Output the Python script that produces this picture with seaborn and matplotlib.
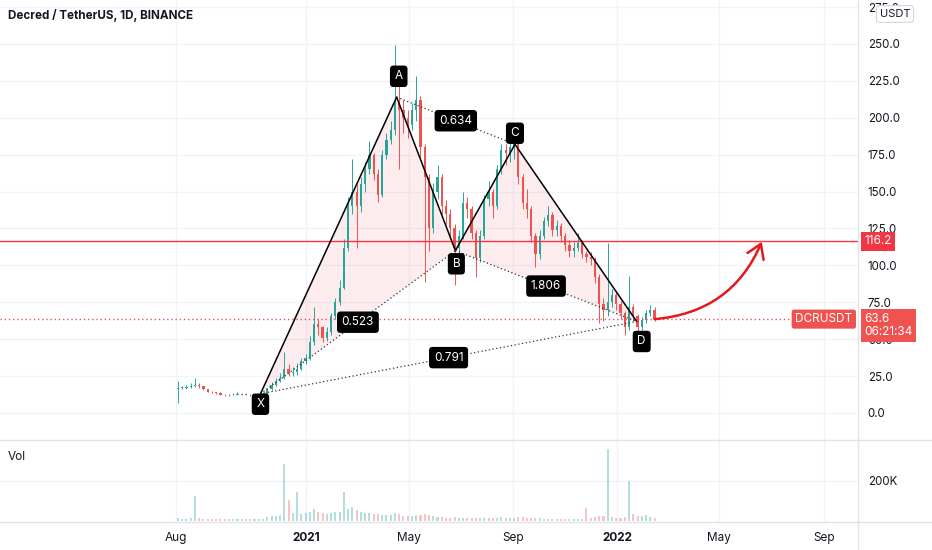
import numpy as np
import pandas as pd
import matplotlib
matplotlib.use("Agg")
import matplotlib.pyplot as plt
import matplotlib.transforms as mtransforms
from matplotlib.patches import FancyArrowPatch
from matplotlib.lines import Line2D
from matplotlib.ticker import FuncFormatter, FormatStrFormatter
import seaborn as sns

# ---- data (5-day candles, days counted from 2020-08-01) ----
start_date = pd.Timestamp("2020-08-01")
candle_days = 5
first_open = 16

closes = [17, 17, 17.5, 18, 19, 18, 16, 14.5, 14, 13.5,
          12.5, 12, 12, 12.5, 13, 12.5, 12.5, 12, 12, 12.5,
          13, 16, 19, 22, 24, 30, 27, 28, 30, 35,
          37, 48, 60, 58, 51, 55, 66, 75, 85, 112,
          140, 150, 140, 155, 165, 175, 162, 148, 175, 185,
          192, 210, 205, 200, 195, 205, 212, 180, 160, 125,
          150, 160, 140, 135, 125, 112, 120, 142, 138, 122,
          105, 120, 145, 150, 140, 165, 178, 176, 180, 183,
          160, 142, 138, 120, 108, 120, 130, 134, 124, 127,
          120, 114, 110, 112, 115, 108, 106, 104, 92, 74,
          70, 75, 80, 74, 68, 58, 72, 66, 58, 63,
          68, 70, 63.6]
highs = [22, 18.5, 19, 20, 24, 20, 18.5, 16.5, 15, 14.5,
         14, 13, 12.8, 13.5, 14, 13.5, 13.5, 13, 12.8, 13.2,
         14, 17, 21, 24, 27, 41, 33, 31, 34, 37,
         40, 52, 72, 64, 59, 58, 68, 78, 90, 118,
         146, 172, 155, 160, 170, 184, 176, 165, 178, 190,
         198, 249, 222, 212, 205, 210, 228, 215, 182, 162,
         156, 168, 162, 144, 138, 128, 124, 150, 146, 140,
         124, 124, 148, 157, 152, 168, 182, 182, 184, 187,
         184, 162, 152, 140, 122, 124, 133, 140, 136, 131,
         129, 122, 117, 116, 122, 117, 110, 109, 106, 94,
         78, 115, 84, 82, 76, 69, 93, 74, 67, 65,
         70, 73, 72]
lows = [7, 16, 16.5, 17, 17.5, 17, 15.5, 14, 13.5, 13,
        12, 11.5, 11.5, 12, 12.2, 12, 12, 11.5, 11.5, 11.5,
        11.8, 12.8, 15.5, 18, 21, 23, 25, 25, 26, 29,
        33, 36, 46, 53, 48, 49, 53, 64, 73, 84,
        110, 135, 112, 136, 150, 162, 158, 143, 146, 172,
        182, 188, 165, 190, 186, 192, 198, 172, 89, 110,
        122, 145, 135, 128, 118, 87, 108, 118, 132, 118,
        92, 102, 118, 140, 132, 138, 162, 168, 170, 172,
        155, 138, 132, 116, 99, 104, 118, 127, 120, 120,
        116, 110, 106, 106, 110, 105, 102, 100, 88, 61,
        62, 66, 72, 70, 64, 53, 56, 62, 52, 56,
        61, 66, 62]
volumes_k = [15, 8, 10, 12, 123, 14, 10, 9, 8, 8,
             7, 6, 6, 7, 8, 6, 6, 7, 7, 8,
             10, 18, 22, 25, 28, 283, 103, 40, 145, 35,
             38, 45, 60, 42, 40, 35, 38, 42, 45, 145,
             60, 70, 55, 45, 40, 38, 35, 32, 30, 28,
             26, 40, 35, 25, 22, 22, 28, 30, 35, 30,
             22, 20, 18, 15, 14, 16, 14, 15, 12, 12,
             14, 12, 14, 13, 12, 15, 16, 14, 12, 14,
             18, 20, 14, 12, 13, 11, 10, 10, 9, 9,
             10, 9, 8, 8, 9, 9, 62, 12, 20, 25,
             22, 357, 20, 14, 12, 16, 200, 35, 25, 22,
             30, 18, 12]

# XABCD harmonic pattern
pattern_names = ["X", "A", "B", "C", "D"]
pattern_days = [99, 259, 328, 398, 541]
pattern_values = [13, 214, 110, 182, 62]
ratio_labels = ["0.523", "0.634", "1.806", "0.791"]
ratio_pairs = [(0, 2), (1, 3), (2, 4), (0, 4)]

resistance = 116.2
last_price = 63.6
countdown = "06:21:34"
symbol = "DCRUSDT"
arrow_target = (688, 116)

month_ticks = ["2020-08-01", "2021-01-01", "2021-05-01", "2021-09-01",
               "2022-01-01", "2022-05-01", "2022-09-01"]
month_labels = ["Aug", "2021", "May", "Sep", "2022", "May", "Sep"]
price_ticks = [0, 25, 50, 75, 100, 125, 150, 175, 200, 225, 250, 275]
vol_ticks = [200000]

# ---- styling ----
sns.set_theme(style="white")
plt.rcParams["font.family"] = ["Inter", "DejaVu Sans"]

UP = "#26a69a"
DOWN = "#ef5350"
TEXT = "#131722"
GRID = "#f0f3fa"
SEP = "#e0e3eb"
TAG_RED = "#f23645"

opens = [first_open] + closes[:-1]
df = pd.DataFrame({
    "day": np.arange(len(closes)) * candle_days + 2,
    "open": opens, "close": closes, "high": highs, "low": lows,
    "volume": np.array(volumes_k) * 1000,
})
df["up"] = df["close"] >= df["open"]
colors = np.where(df["up"], UP, DOWN)

tick_days = [(pd.Timestamp(t) - start_date).days for t in month_ticks]

W, H = 932, 550
fig = plt.figure(figsize=(W / 100, H / 100), dpi=100)
fig.patch.set_facecolor("white")
ax = fig.add_axes([0, 110 / H, 858 / W, 440 / H])
ax_vol = fig.add_axes([0, 28 / H, 858 / W, 82 / H], sharex=ax)

for a in (ax, ax_vol):
    a.set_facecolor("white")
    for s in a.spines.values():
        s.set_visible(False)
    a.grid(True, color=GRID, lw=1)
    a.set_axisbelow(True)
    a.yaxis.tick_right()
    a.tick_params(axis="y", length=0, pad=7, labelsize=8.3, labelcolor=TEXT)

ax.set_xlim(-207, 801)
ax.set_ylim(-18.3, 279.8)
ax.set_yticks(price_ticks)
ax.yaxis.set_major_formatter(FormatStrFormatter("%.1f"))
ax.set_xticks(tick_days)
ax.tick_params(axis="x", labelbottom=False, length=0)

# candles
body_lo = df[["open", "close"]].min(axis=1)
body_h = (df["close"] - df["open"]).abs().clip(lower=0.5)
ax.vlines(df["day"], df["low"], df["high"], colors=colors, lw=0.7, zorder=3)
ax.bar(df["day"], body_h, bottom=body_lo, width=2.6, color=colors, lw=0, zorder=3)

# pattern fill + legs
pat = pd.DataFrame({"point": pattern_names, "day": pattern_days, "value": pattern_values})
for idx in ([0, 1, 2], [2, 3, 4]):
    ax.fill(pat["day"].iloc[idx], pat["value"].iloc[idx], color=TAG_RED, alpha=0.09, lw=0, zorder=2)
sns.lineplot(data=pat, x="day", y="value", sort=False, color="black", lw=1.1, ax=ax, zorder=4)
ax.set_xlabel("")
ax.set_ylabel("")
for (i, j), lab in zip(ratio_pairs, ratio_labels):
    ax.plot([pat["day"][i], pat["day"][j]], [pat["value"][i], pat["value"][j]],
            color="#333333", lw=0.9, ls=(0, (1, 2)), zorder=4)
    ax.text((pat["day"][i] + pat["day"][j]) / 2, (pat["value"][i] + pat["value"][j]) / 2, lab,
            ha="center", va="center", color="white", fontsize=8.5, zorder=6,
            bbox=dict(boxstyle="round,pad=0.4,rounding_size=0.3", fc="black", ec="none"))

label_offsets = [(0, -7.5), (1.5, 15), (0.7, -9.5), (0, 8), (3.6, -14.4)]
for (name, d, v), off in zip(pat[["point", "day", "value"]].values, label_offsets):
    ax.annotate(name, xy=(d, v), xytext=off, textcoords="offset points",
                ha="center", va="center", color="white", fontsize=8.5, zorder=6,
                bbox=dict(boxstyle="round,pad=0.4,rounding_size=0.3", fc="black", ec="none"))

# horizontal levels
ax.axhline(resistance, color=TAG_RED, lw=1, zorder=3)
ax.axhline(last_price, color=DOWN, lw=1, ls=(0, (1, 2)), zorder=3)

# projection arrow
arrow = FancyArrowPatch((df["day"].iloc[-1], closes[-1]), arrow_target,
                        connectionstyle="arc3,rad=0.3",
                        arrowstyle="->,head_length=0.7,head_width=0.45",
                        mutation_scale=14, color="#e3191c", lw=1.8,
                        shrinkA=0, shrinkB=0, zorder=5)
ax.add_patch(arrow)

# price tags
blend = mtransforms.blended_transform_factory(ax.transAxes, ax.transData)
ax.annotate(f"{resistance:.1f}", xy=(1, resistance), xycoords=blend, xytext=(4.5, 0),
            textcoords="offset points", ha="left", va="center", color="white",
            fontsize=8.5, annotation_clip=False, zorder=7,
            bbox=dict(boxstyle="square,pad=0.3", fc=TAG_RED, ec="none"))
ax.annotate(f"{last_price:.1f}\n{countdown}", xy=(1, last_price), xycoords=blend,
            xytext=(4.5, 4.5), textcoords="offset points", ha="left", va="top",
            color="white", fontsize=8.5, linespacing=1.15, annotation_clip=False, zorder=7,
            bbox=dict(boxstyle="square,pad=0.3", fc=DOWN, ec="none"))
ax.annotate(symbol, xy=(1, last_price), xycoords=blend, xytext=(-4, 0),
            textcoords="offset points", ha="right", va="center", color="white",
            fontsize=8.5, annotation_clip=False, zorder=7,
            bbox=dict(boxstyle="round,pad=0.3,rounding_size=0.2", fc=DOWN, ec="none"))

# volume
vol_colors = np.where(df["up"], UP, DOWN)
ax_vol.bar(df["day"], df["volume"], width=2.4, color=vol_colors, alpha=0.35, lw=0)
ax_vol.set_ylim(-6500, 403000)
ax_vol.set_yticks(vol_ticks)
ax_vol.yaxis.set_major_formatter(FuncFormatter(lambda v, p: f"{v / 1000:.0f}K"))
ax_vol.set_xticks(tick_days)
ax_vol.set_xticklabels(month_labels)
ax_vol.tick_params(axis="x", length=0, pad=7, labelsize=8.5, labelcolor=TEXT)
for t in ax_vol.get_xticklabels():
    if t.get_text().isdigit():
        t.set_fontweight("bold")

# separators
fig.add_artist(Line2D([858 / W, 858 / W], [0, 1], color=SEP, lw=1))
fig.add_artist(Line2D([0, 1], [1 - 440 / H, 1 - 440 / H], color=SEP, lw=1))
fig.add_artist(Line2D([0, 1], [1 - 522 / H, 1 - 522 / H], color=SEP, lw=1))

# header texts
fig.text(8 / W, 1 - 16 / H, "Decred / TetherUS, 1D, BINANCE", fontsize=8.4,
         fontweight="bold", color=TEXT, va="center")
fig.text(8 / W, 1 - 457 / H, "Vol", fontsize=8.5, color=TEXT, va="center")
fig.text(895 / W, 1 - 14 / H, "USDT", fontsize=8, color=TEXT, ha="center", va="center",
         bbox=dict(boxstyle="round,pad=0.3,rounding_size=0.3", fc="white", ec="#d1d4dc", lw=0.8))

fig.savefig("out.png", dpi=100, facecolor="white")
